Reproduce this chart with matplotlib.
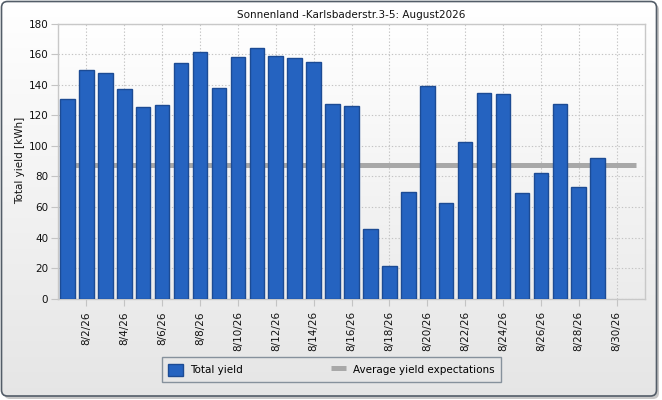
import numpy as np
import matplotlib
matplotlib.use("Agg")
import matplotlib.pyplot as plt
from matplotlib.patches import FancyBboxPatch, Patch
from matplotlib.lines import Line2D

# --- data ---
days = [1, 2, 3, 4, 5, 6, 7, 8, 9, 10, 11, 12, 13, 14, 15,
        16, 17, 18, 19, 20, 21, 22, 23, 24, 25, 26, 27, 28, 29]
total_yield = [130.6, 149.6, 147.6, 137.1, 125.3, 126.7, 154.2, 161.4, 137.8, 158.1,
               164.0, 158.7, 157.4, 154.8, 127.3, 126.0, 45.4, 21.2, 69.7, 139.1,
               62.7, 102.4, 134.5, 133.9, 69.0, 82.1, 127.3, 72.9, 91.9]
avg_days = [1, 31]
avg_expectation = [87.6, 87.6]
tick_days = [2, 4, 6, 8, 10, 12, 14, 16, 18, 20, 22, 24, 26, 28, 30]
tick_labels = ["8/2/26", "8/4/26", "8/6/26", "8/8/26", "8/10/26", "8/12/26", "8/14/26",
               "8/16/26", "8/18/26", "8/20/26", "8/22/26", "8/24/26", "8/26/26",
               "8/28/26", "8/30/26"]
y_ticks = [0, 20, 40, 60, 80, 100, 120, 140, 160, 180]

title = "Sonnenland -Karlsbaderstr.3-5: August2026"
ylabel = "Total yield [kWh]"

plt.rcParams['font.family'] = ['DejaVu Sans']
plt.rcParams['font.size'] = 7.5

W, H = 662, 400
fig = plt.figure(figsize=(W / 100, H / 100), dpi=100)
fig.patch.set_facecolor("white")

# --- figure background gradient with rounded frame ---
bg = fig.add_axes([0, 0, 1, 1], zorder=-10)
bg.set_xlim(0, W)
bg.set_ylim(0, H)
bg.axis("off")
grad = np.linspace(1.0, 0.0, 256).reshape(-1, 1)
top_c = np.array([1.0, 1.0, 1.0])
bot_c = np.array([0.90, 0.90, 0.90])
img = grad[..., None] * top_c + (1 - grad[..., None]) * bot_c
shadow = FancyBboxPatch((4, 1), W - 7, H - 5, boxstyle="round,pad=0,rounding_size=6",
                        facecolor="#c8c8c8", edgecolor="none")
bg.add_patch(shadow)
frame = FancyBboxPatch((1.5, 4), W - 7, H - 5.5, boxstyle="round,pad=0,rounding_size=6",
                       facecolor="none", edgecolor="#535d68", linewidth=1.2, zorder=3)
im = bg.imshow(img, extent=[1.5, W - 5.5, 4, H - 1.5], aspect="auto", zorder=1)
im.set_clip_path(frame)
bg.add_patch(frame)

# --- plot area ---
ax = fig.add_axes([58 / W, 1 - 298.7 / H, (645 - 58) / W, (298.7 - 23.5) / H])
ax.set_facecolor("none")
pgrad = np.linspace(1.0, 0.0, 256).reshape(-1, 1)
ptop = np.array([1.0, 1.0, 1.0])
pbot = np.array([0.925, 0.925, 0.925])
pimg = pgrad[..., None] * ptop + (1 - pgrad[..., None]) * pbot
ax.imshow(pimg, extent=[0.5, 31.5, 0, 180], aspect="auto", zorder=0)

ax.plot(avg_days, avg_expectation, color="#a8a8a8", linewidth=3.6,
        solid_capstyle="butt", zorder=2)
ax.bar(days, total_yield, width=0.77, color="#2563c0", edgecolor="#1c4b94",
       linewidth=1.0, zorder=3)

ax.set_xlim(0.5, 31.5)
ax.set_ylim(0, 180)
ax.set_xticks(tick_days)
ax.set_xticklabels(tick_labels, rotation=90, ha="center", va="top")
ax.set_yticks(y_ticks)
ax.grid(True, color="#c4c4c4", linestyle=(0, (1.2, 1.8)), linewidth=0.8, zorder=1)
ax.set_axisbelow(True)
ax.tick_params(axis="both", length=5, width=0.8, color="#c4c4c4", pad=2,
               labelcolor="#111111")
ax.tick_params(axis="x", pad=4)
for s in ax.spines.values():
    s.set_color("#c8c8c8")
    s.set_linewidth(1.0)

ax.set_title(title, fontsize=7.5, color="#111111", pad=4)
fig.text(20 / W, 1 - 160 / H, ylabel, rotation=90, ha="center", va="center",
         fontsize=7.5, color="#111111")

# --- legend ---
handles = [Patch(facecolor="#2563c0", edgecolor="#1c4b94", linewidth=1.0),
           Line2D([0], [0], color="#a8a8a8", linewidth=3.6, solid_capstyle="butt")]
leg = fig.legend(handles, ["Total yield", "Average yield expectations"],
                 loc="lower left",
                 bbox_to_anchor=(162 / W, 1 - 382 / H, (501 - 162) / W, 30 / H),
                 mode="expand", ncol=2, frameon=True, fancybox=False,
                 handlelength=1.4, handleheight=1.4, handletextpad=0.7,
                 borderpad=0.6, borderaxespad=0, fontsize=7.5)
leg.get_frame().set_facecolor("none")
leg.get_frame().set_edgecolor("#6e7c8a")
leg.get_frame().set_linewidth(1.0)

fig.savefig("out.png", dpi=100)
